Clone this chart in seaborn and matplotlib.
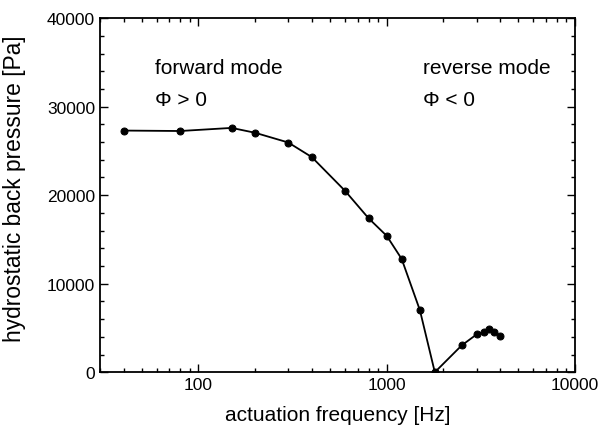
import numpy as np
import pandas as pd
import matplotlib
matplotlib.use("Agg")
import matplotlib.pyplot as plt
import seaborn as sns
from matplotlib.ticker import LogLocator, MultipleLocator, FixedLocator, NullFormatter

# ==================== data ====================
freq_hz = [40, 80, 150, 200, 300, 400, 600, 800, 1000, 1200, 1500,
           1800, 2500, 3000, 3300, 3500, 3700, 4000]
pressure_pa = [27300, 27250, 27600, 27050, 25950, 24300, 20500, 17400,
               15400, 12800, 7000, 0, 3030, 4270, 4570, 4870, 4530, 4080]

x_ticks = [100, 1000, 10000]
x_tick_labels = ["100", "1000", "10000"]
y_ticks = [0, 10000, 20000, 30000, 40000]

df = pd.DataFrame({"freq": freq_hz, "pressure": pressure_pa})

# ==================== plot ====================
sns.set_theme(style="ticks")
plt.rcParams['font.family'] = ['Liberation Sans', 'DejaVu Sans']
plt.rcParams['text.color'] = 'black'
plt.rcParams['axes.labelcolor'] = 'black'
plt.rcParams['xtick.color'] = 'black'
plt.rcParams['ytick.color'] = 'black'

fig, ax = plt.subplots(figsize=(5.99, 4.35), dpi=100)
fig.subplots_adjust(left=0.167, right=0.96, top=0.956, bottom=0.142)

sns.lineplot(data=df, x="freq", y="pressure", ax=ax, color="black",
             linewidth=1.3, marker="o", markersize=5, markeredgecolor="black",
             markerfacecolor="black", sort=False)

ax.set_xscale("log")
ax.set_xlim(30, 10000)
ax.set_ylim(0, 40000)
ax.xaxis.set_major_locator(FixedLocator(x_ticks))
ax.set_xticklabels(x_tick_labels)
ax.xaxis.set_minor_locator(LogLocator(base=10, subs=np.arange(2, 10)))
ax.xaxis.set_minor_formatter(NullFormatter())
ax.yaxis.set_major_locator(FixedLocator(y_ticks))
ax.yaxis.set_minor_locator(MultipleLocator(2000))

ax.tick_params(which="both", direction="in", top=True, right=True,
               labelsize=12.5, color="black", width=1.0)
ax.tick_params(which="major", length=6)
ax.tick_params(which="minor", length=3)
for s in ax.spines.values():
    s.set_linewidth(1.3)
    s.set_color("black")

ax.set_xlabel("actuation frequency [Hz]", fontsize=15, labelpad=9)
ax.set_ylabel("hydrostatic back pressure [Pa]", fontsize=16.4)
ax.yaxis.set_label_coords(-0.156, 0.52)

ax.text(0.116, 0.862, "forward mode", transform=ax.transAxes,
        fontsize=15, va="center", ha="left")
ax.text(0.116, 0.771, "\u03A6 > 0", transform=ax.transAxes,
        fontsize=15, va="center", ha="left")
ax.text(0.679, 0.862, "reverse mode", transform=ax.transAxes,
        fontsize=15, va="center", ha="left")
ax.text(0.679, 0.771, "\u03A6 < 0", transform=ax.transAxes,
        fontsize=15, va="center", ha="left")

fig.savefig("out.png", dpi=100)
